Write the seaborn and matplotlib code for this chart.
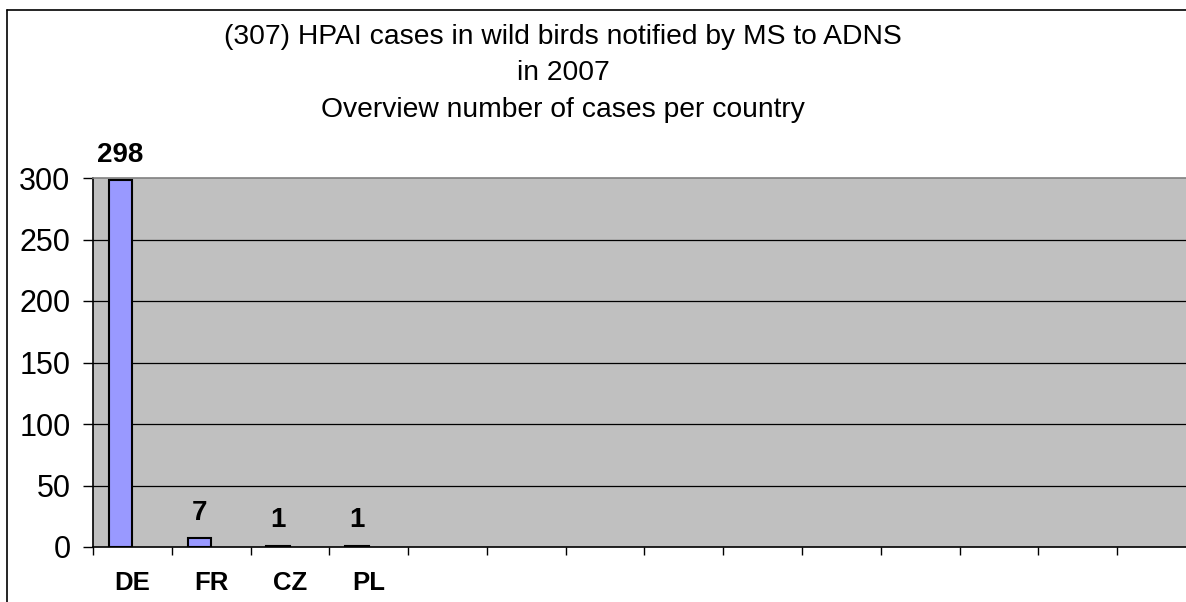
import matplotlib
matplotlib.use("Agg")
import matplotlib.pyplot as plt
import seaborn as sns
import numpy as np
import pandas as pd
from matplotlib.lines import Line2D

# data
countries = ["DE", "FR", "CZ", "PL"]
cases = [298, 7, 1, 1]
n_slots = 14  # the category axis keeps 14 slots, only 4 are filled
title_lines = [
    "(307) HPAI cases in wild birds notified by MS to ADNS",
    "in 2007",
    "Overview number of cases per country",
]
y_ticks = [0, 50, 100, 150, 200, 250, 300]

sns.set_style("white")
plt.rcParams['font.family'] = ['Liberation Sans', 'DejaVu Sans']
plt.rcParams['text.color'] = 'black'
plt.rcParams['xtick.color'] = 'black'
plt.rcParams['ytick.color'] = 'black'
plt.rcParams['xtick.labelcolor'] = 'black'
plt.rcParams['ytick.labelcolor'] = 'black'

df = pd.DataFrame({"country": countries, "cases": cases, "series": "cases"})

fig = plt.figure(figsize=(11.86, 6.02), dpi=100)
ax = fig.add_axes([93 / 1186, 1 - 547 / 602, (1196 - 93) / 1186, (547 - 178) / 602])
ax.set_facecolor("#C0C0C0")

sns.barplot(
    data=df, x="country", y="cases", hue="series",
    hue_order=["cases", "blank"],
    palette={"cases": "#9999FF", "blank": "#993366"},
    saturation=1, width=0.6, dodge=True, edgecolor="black", linewidth=1.5,
    legend=False, ax=ax, zorder=3,
)

ax.set_xlim(-0.5, n_slots - 0.5)
ax.set_ylim(0, 300)

# gridlines
for yv in y_ticks[1:-1]:
    ax.axhline(yv, color="black", linewidth=0.9, zorder=1)

# value labels
for p, val in zip([p for p in ax.patches if p.get_height() > 0], cases):
    ax.annotate(f"{val}", (p.get_x() + p.get_width() / 2, p.get_height()),
                xytext=(0, 9), textcoords="offset points",
                ha="center", va="bottom", fontsize=20, fontweight="bold")

# category axis: ticks on slot boundaries, labels at slot centres
ax.set_xticks(np.arange(-0.5, n_slots, 1))
ax.set_xticklabels([])
ax.set_xticks(np.arange(len(countries)), minor=True)
ax.set_xticklabels(countries, minor=True, fontsize=18.5, fontweight="bold")
ax.tick_params(axis="x", which="major", direction="out", length=6, width=1, bottom=True)
ax.tick_params(axis="x", which="minor", length=0, pad=17)
ax.set_xlabel("")

ax.set_yticks(y_ticks)
ax.set_yticklabels([str(v) for v in y_ticks], fontsize=22)
ax.tick_params(axis="y", direction="out", length=7.2, width=1, left=True, pad=9)
ax.set_ylabel("")

for side in ["left", "bottom"]:
    ax.spines[side].set_color("black")
    ax.spines[side].set_linewidth(1.2)
ax.spines["top"].set_color("#808080")
ax.spines["top"].set_linewidth(1.2)
ax.spines["right"].set_visible(False)

# title
for yc, line in zip([37, 73, 110], title_lines):
    fig.text(563 / 1186, 1 - yc / 602, line, ha="center", va="center", fontsize=20.3)

# chart area border (left and top edges visible)
fig.add_artist(Line2D([7 / 1186, 7 / 1186], [0, 1 - 10 / 602], color="black", linewidth=1.2))
fig.add_artist(Line2D([7 / 1186, 1], [1 - 10 / 602, 1 - 10 / 602], color="black", linewidth=1.2))

plt.savefig("out.png", dpi=100)
plt.close()
